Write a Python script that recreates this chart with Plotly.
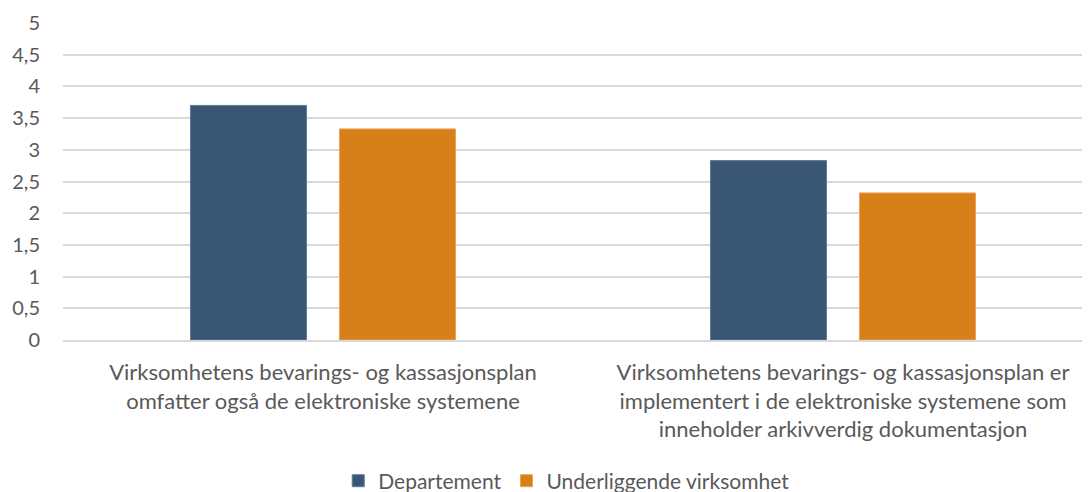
import plotly.graph_objects as go

categories = [
    "Virksomhetens bevarings- og kassasjonsplan<br>omfatter også de elektroniske systemene",
    "Virksomhetens bevarings- og kassasjonsplan er<br>implementert i de elektroniske systemene som<br>inneholder arkivverdig dokumentasjon",
]
departement = [3.7, 2.83]
underliggende = [3.33, 2.32]
y_ticks = [0, 0.5, 1, 1.5, 2, 2.5, 3, 3.5, 4, 4.5, 5]

font_family = "Lato, 'Open Sans', sans-serif"
text_color = "#595959"

fig = go.Figure()
fig.add_trace(go.Bar(x=categories, y=departement, name="Departement",
                     marker=dict(color="#3A5675", line=dict(color="#5E7A99", width=1))))
fig.add_trace(go.Bar(x=categories, y=underliggende, name="Underliggende virksomhet",
                     marker=dict(color="#D77F19", line=dict(color="#E9A45A", width=1))))

# page body adds ~8px offset, so the figure is shifted up/left to compensate
fig.update_layout(
    width=1082, height=500,
    margin=dict(l=55, r=0, t=15, b=168),
    plot_bgcolor="white", paper_bgcolor="white",
    font=dict(family=font_family, size=22, color=text_color),
    separators=", ",
    barmode="group", bargap=0.427, bargroupgap=0.221,
    showlegend=True,
    legend=dict(orientation="h", x=0.49, xanchor="center", y=-0.445, yanchor="middle",
                font=dict(size=21, color=text_color), itemwidth=30, traceorder="normal"),
)
fig.update_xaxes(range=[-0.5, 1.475], showline=True, linecolor="#D9D9D9", linewidth=1.5,
                 tickfont=dict(size=22, color=text_color), ticks="", ticklabelstandoff=12)
fig.update_yaxes(range=[0, 5], tickvals=y_ticks, showgrid=True, gridcolor="#D9D9D9", gridwidth=1.5,
                 zeroline=False, showline=False, tickfont=dict(size=20, color=text_color),
                 ticklabelstandoff=22)

fig.write_html("out.html")
